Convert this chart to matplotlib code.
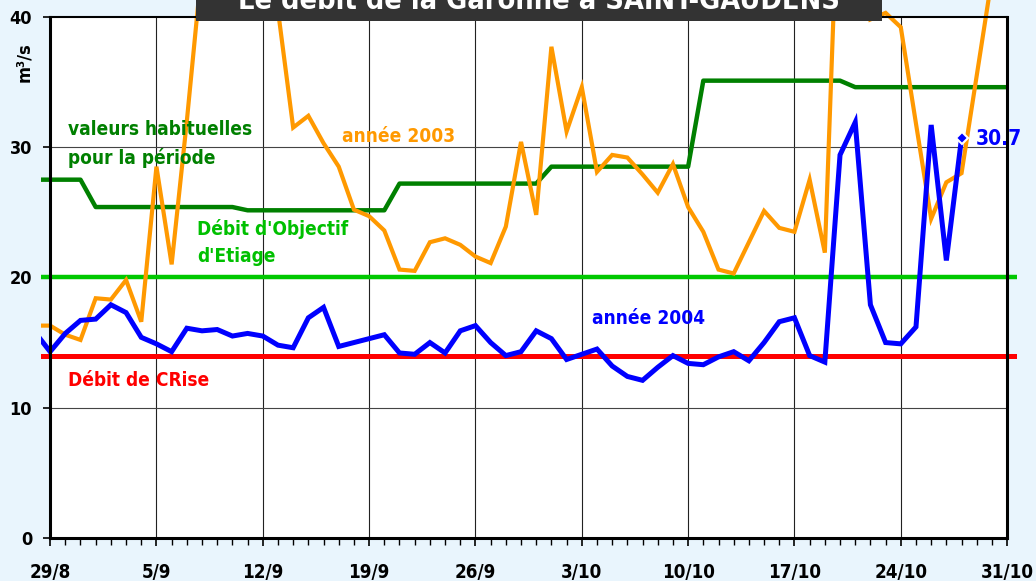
import matplotlib
matplotlib.use("Agg")
import matplotlib.pyplot as plt
from matplotlib.patches import Rectangle

# ---------------- data ----------------
# day index: 0 = 29/8, 63 = 31/10
days_2004 = list(range(-1, 61))
flow_2004 = [15.8, 14.3, 15.7, 16.7, 16.8, 17.9, 17.3, 15.4, 14.9, 14.3,
             16.1, 15.9, 16.0, 15.5, 15.7, 15.5, 14.8, 14.6, 16.9, 17.7,
             14.7, 15.0, 15.3, 15.6, 14.2, 14.1, 15.0, 14.2, 15.9, 16.3,
             15.0, 14.0, 14.3, 15.9, 15.3, 13.7, 14.1, 14.5, 13.2, 12.4,
             12.1, 13.1, 14.0, 13.4, 13.3, 13.9, 14.3, 13.6, 15.0, 16.6,
             16.9, 14.0, 13.5, 29.4, 31.9, 17.9, 15.0, 14.9, 16.2, 31.7,
             21.3, 30.7]

days_2003 = list(range(-1, 63))
flow_2003 = [16.3, 16.3, 15.6, 15.2, 18.4, 18.3, 19.8, 16.6, 28.5, 21.0,
             32.0, 44.0, 48.0, 50.0, 47.0, 44.0, 40.5, 31.5, 32.4, 30.3,
             28.5, 25.2, 24.7, 23.6, 20.6, 20.5, 22.7, 23.0, 22.5, 21.6,
             21.1, 23.9, 30.4, 24.8, 37.7, 31.2, 34.6, 28.1, 29.4, 29.2,
             27.9, 26.5, 28.7, 25.4, 23.5, 20.6, 20.3, 22.7, 25.1, 23.8,
             23.5, 27.5, 21.9, 54.0, 50.0, 39.8, 40.3, 39.2, 31.8, 24.5,
             27.3, 28.0, 35.5, 43.0]

days_hab = list(range(-1, 64))
flow_hab = [27.5, 27.5, 27.5, 27.5,
            25.4, 25.4, 25.4, 25.4, 25.4, 25.4, 25.4, 25.4, 25.4, 25.4,
            25.15, 25.15, 25.15, 25.15, 25.15, 25.15, 25.15, 25.15, 25.15, 25.15,
            27.2, 27.2, 27.2, 27.2, 27.2, 27.2, 27.2, 27.2, 27.2, 27.2,
            28.5, 28.5, 28.5, 28.5, 28.5, 28.5, 28.5, 28.5, 28.5, 28.5,
            35.1, 35.1, 35.1, 35.1, 35.1, 35.1, 35.1, 35.1, 35.1, 35.1,
            34.6, 34.6, 34.6, 34.6, 34.6, 34.6, 34.6, 34.6, 34.6, 34.6, 34.6]

days_ref = [-1, 64]
flow_doe = [20, 20]      # Débit d'Objectif d'Etiage
flow_crise = [14, 14]    # Débit de CRise

week_ticks = [0, 7, 14, 21, 28, 35, 42, 49, 56, 63]
week_labels = ["29/8", "5/9", "12/9", "19/9", "26/9", "3/10",
               "10/10", "17/10", "24/10", "31/10"]
y_ticks = [0, 10, 20, 30, 40]
last_day = 60
last_value = 30.7
title = "Le débit de la Garonne à SAINT-GAUDENS"

# ---------------- style ----------------
plt.rcParams["font.family"] = ["DejaVu Sans"]
plt.rcParams["font.stretch"] = "condensed"
plt.rcParams["font.weight"] = "bold"

BG = "#E9F5FD"
W, H = 1036, 581
LBL = 13.7
fig = plt.figure(figsize=(W / 100, H / 100), dpi=100, facecolor=BG)
ax = fig.add_axes([41 / W, 43 / H, (1017 - 41) / W, 538 / H])
ax.set_facecolor(BG)
ax.set_xlim(-0.6, 63.65)
ax.set_ylim(0, 41.29)

ax.add_patch(Rectangle((0, 0), 63, 40, facecolor="white", edgecolor="none", zorder=0))

# grid
ax.vlines(week_ticks[1:-1], 0, 40, colors="#222222", linewidth=0.8, zorder=1)
ax.hlines(y_ticks[1:-1], 0, 63, colors="#444444", linewidth=0.8, zorder=1)

# series
ax.plot(days_ref, flow_doe, color="#00C800", linewidth=3.2, zorder=3, solid_capstyle="butt")
ax.plot(days_ref, flow_crise, color="#FF0000", linewidth=3.6, zorder=3, solid_capstyle="butt")
ax.plot(days_hab, flow_hab, color="#008000", linewidth=3.2, zorder=4, solid_capstyle="butt")
ax.plot(days_2003, flow_2003, color="#FF9900", linewidth=3.0, zorder=5, solid_joinstyle="miter")
ax.plot(days_2004, flow_2004, color="#0000FF", linewidth=3.6, zorder=6, solid_joinstyle="miter")
ax.plot([last_day], [last_value], marker="D", markersize=6.5, color="#0000FF",
        markeredgecolor="white", markeredgewidth=1.5, zorder=7, linestyle="none")
ax.annotate(f"{last_value}", xy=(last_day, last_value), xytext=(10.5, -5.4),
            textcoords="offset points", ha="left", va="baseline",
            color="#0000FF", fontsize=15, zorder=8)

# spines
for s in ["left", "right", "top", "bottom"]:
    ax.spines[s].set_color("black")
ax.spines["left"].set_position(("data", 0))
ax.spines["left"].set_bounds(0, 40)
ax.spines["left"].set_linewidth(2.2)
ax.spines["right"].set_position(("data", 63))
ax.spines["right"].set_bounds(0, 40)
ax.spines["right"].set_linewidth(2.2)
ax.spines["top"].set_position(("data", 40))
ax.spines["top"].set_bounds(0, 63)
ax.spines["top"].set_linewidth(1.5)
ax.spines["bottom"].set_bounds(0, 63)
ax.spines["bottom"].set_linewidth(2.2)
for s in ax.spines.values():
    s.set_zorder(9)

ax.set_xticks(week_ticks)
ax.set_xticklabels(week_labels)
ax.set_xticks(list(range(0, 64)), minor=True)
ax.set_yticks(y_ticks)
ax.set_yticklabels([str(v) for v in y_ticks])
ax.tick_params(axis="x", which="major", length=5.5, width=1.2, pad=12.5, labelsize=13.5)
ax.tick_params(axis="x", which="minor", length=5, width=1.0)
ax.tick_params(axis="y", which="major", length=5, width=1.2, pad=8, labelsize=13)
ax.tick_params(right=False, top=False)

# labels on the chart
ax.text(1.18, 30.9, "valeurs habituelles", color="#008000", fontsize=LBL, va="baseline", ha="left", zorder=8)
ax.text(1.18, 28.7, "pour la période", color="#008000", fontsize=LBL, va="baseline", ha="left", zorder=8)
ax.text(19.2, 30.4, "année 2003", color="#FF9900", fontsize=LBL, va="baseline", ha="left", zorder=8)
ax.text(9.68, 23.25, "Débit d'Objectif", color="#00C000", fontsize=LBL, va="baseline", ha="left", zorder=8)
ax.text(9.68, 21.2, "d'Etiage", color="#00C000", fontsize=LBL, va="baseline", ha="left", zorder=8)
ax.text(35.7, 16.45, "année 2004", color="#0000FF", fontsize=LBL, va="baseline", ha="left", zorder=8)
ax.text(1.18, 11.65, "Débit de CRise", color="#FF0000", fontsize=LBL, va="baseline", ha="left", zorder=8)
ax.text(-1.71, 36.5, "m³/s", color="black", fontsize=13, rotation=90, va="center", ha="center",
        clip_on=False, zorder=8)

# title box
fig.patches.append(Rectangle((196 / W, 1 - 20.5 / H), (882 - 196) / W, 0.2,
                             transform=fig.transFigure, facecolor="#333333",
                             edgecolor="none", zorder=5))
fig.text(538.5 / W, 1 - 9 / H, title, color="white", fontsize=20.7, ha="center",
         va="baseline", zorder=6)

fig.savefig("out.png", dpi=100, facecolor=BG)
